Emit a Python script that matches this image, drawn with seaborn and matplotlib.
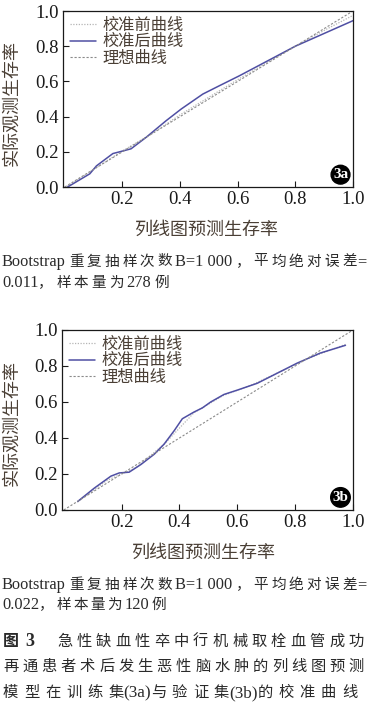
import matplotlib
matplotlib.use("Agg")
import matplotlib.pyplot as plt
import seaborn as sns
import pandas as pd

sns.set_theme(style="ticks")
plt.rcParams['font.family'] = ['Liberation Serif', 'Noto Sans CJK SC']
plt.rcParams['axes.unicode_minus'] = False

# ---------------- data ----------------
# Panel 3a (training set)
a_after_x = [0.01, 0.087, 0.11, 0.167, 0.20, 0.23, 0.283, 0.352, 0.404, 0.479, 0.536, 0.606, 0.80, 1.0]
a_after_y = [0.00, 0.075, 0.12, 0.19, 0.204, 0.217, 0.283, 0.377, 0.443, 0.528, 0.575, 0.632, 0.80, 0.945]
a_before_x = [0.01, 0.10, 0.20, 0.30, 0.40, 0.50, 0.60, 0.70, 0.80, 0.90, 1.0]
a_before_y = [0.005, 0.10, 0.205, 0.30, 0.41, 0.51, 0.61, 0.705, 0.80, 0.89, 0.975]
# Panel 3b (validation set)
b_after_x = [0.048, 0.106, 0.163, 0.192, 0.226, 0.267, 0.313, 0.347, 0.382, 0.41, 0.45, 0.479, 0.508, 0.554, 0.60, 0.669, 0.738, 0.807, 0.887, 0.974]
b_after_y = [0.047, 0.122, 0.188, 0.206, 0.21, 0.253, 0.31, 0.366, 0.441, 0.507, 0.544, 0.567, 0.60, 0.642, 0.666, 0.704, 0.76, 0.816, 0.872, 0.915]
b_before_x = [0.048, 0.15, 0.25, 0.35, 0.45, 0.55, 0.65, 0.75, 0.85, 0.974]
b_before_y = [0.045, 0.165, 0.235, 0.37, 0.54, 0.635, 0.695, 0.77, 0.845, 0.92]
ideal = [0.0, 1.0]

x_ticks = [0.2, 0.4, 0.6, 0.8, 1.0]
y_ticks = [0.0, 0.2, 0.4, 0.6, 0.8, 1.0]
legend_labels = ["校准前曲线", "校准后曲线", "理想曲线"]
x_label = "列线图预测生存率"
y_label = "实际观测生存率"

W, H = 369, 704
fig = plt.figure(figsize=(W / 100, H / 100), dpi=100)
fig.patch.set_facecolor("white")

LABEL_C = "#4a3f35"
TEXT_C = "#2a2a2a"
BLUE = "#4f4fa3"


def fy(py):
    return 1 - py / H


def fx(px):
    return px / W


def panel(rect, bx, by, ax_, ay_, badge):
    ax = fig.add_axes(rect)
    sns.lineplot(x=bx, y=by, ax=ax, color="#b5b5b5", lw=0.9, linestyle=(0, (1, 1.2)),
                 label=legend_labels[0], estimator=None, sort=False)
    sns.lineplot(x=ax_, y=ay_, ax=ax, color=BLUE, lw=1.1,
                 label=legend_labels[1], estimator=None, sort=False)
    sns.lineplot(x=ideal, y=ideal, ax=ax, color="#8a8a8a", lw=0.8, linestyle=(0, (2, 1.6)),
                 label=legend_labels[2], estimator=None, sort=False)
    ax.set_xlim(-0.006, 1.0)
    ax.set_ylim(0.0, 1.0)
    ax.set_xticks(x_ticks)
    ax.set_yticks(y_ticks)
    ax.set_xticklabels([f"{t:.1f}" for t in x_ticks])
    ax.set_yticklabels([f"{t:.1f}" for t in y_ticks])
    ax.tick_params(direction="in", length=4, width=0.8, labelsize=13.5,
                   colors="#1a1a1a", pad=3)
    for s in ax.spines.values():
        s.set_linewidth(0.9)
        s.set_color("#1a1a1a")
    ax.set_xlabel("")
    ax.set_ylabel("")
    leg = ax.legend(loc="upper left", frameon=False, fontsize=11.7,
                    handlelength=1.6, handletextpad=0.45, labelspacing=0.05,
                    borderaxespad=0.25, borderpad=0.15)
    for t in leg.get_texts():
        t.set_color(LABEL_C)
    ax.text(0.957, 0.07, badge, transform=ax.transAxes, ha="center", va="center",
            color="white", fontsize=11, fontweight="bold",
            bbox=dict(boxstyle="circle,pad=0.12", fc="black", ec="black"))
    return ax


def is_ascii(tok):
    return all(ord(c) < 128 for c in tok)


def justify(text_tokens, py, x0, x1, size, color=TEXT_C, tight=()):
    """Place tokens spread evenly between x0 and x1; no gap at indices in tight."""
    r = fig.canvas.get_renderer()
    objs = []
    for tok in text_tokens:
        s = size * 1.12 if is_ascii(tok) else size
        t = fig.text(0, fy(py), tok, fontsize=s, color=color, va="center", ha="left")
        objs.append(t)
    widths = [o.get_window_extent(renderer=r).width for o in objs]
    n_gaps = sum(1 for i in range(1, len(objs)) if i not in tight)
    gap = (x1 - x0 - sum(widths)) / max(n_gaps, 1)
    x = x0
    for i, (o, w) in enumerate(zip(objs, widths)):
        if i > 0 and i not in tight:
            x += gap
        o.set_x(fx(x))
        x += w


def tokenize(s):
    toks = []
    buf = ""
    for ch in s:
        if ord(ch) < 128:
            buf += ch
        else:
            if buf.strip():
                toks.append(buf.strip())
            buf = ""
            toks.append(ch)
    if buf.strip():
        toks.append(buf.strip())
    return toks


# Panel a
ax1 = panel([63 / W, 1 - 187 / H, 290 / W, 176 / H], a_before_x, a_before_y,
            a_after_x, a_after_y, "3a")
fig.text(fx(12), fy(103), y_label, rotation=90, ha="center", va="center",
         fontsize=13, color=LABEL_C)
fig.text(fx(206), fy(230), x_label, ha="center", va="center",
         fontsize=13, color=LABEL_C)

# Panel b
ax2 = panel([62 / W, 1 - 510 / H, 291 / W, 180 / H], b_before_x, b_before_y,
            b_after_x, b_after_y, "3b")
fig.text(fx(12), fy(423), y_label, rotation=90, ha="center", va="center",
         fontsize=13, color=LABEL_C)
fig.text(fx(203), fy(553), x_label, ha="center", va="center",
         fontsize=13, color=LABEL_C)

fig.canvas.draw()

# captions
cap1 = "Bootstrap 重复抽样次数 B=1 000， 平均绝对误差="
justify(tokenize(cap1), 262, 2, 366, 10.5, tight=(15,))
justify(tokenize("0.011，样本量为 278 例"), 283, 2, 169, 10.5, tight=(1,))
justify(tokenize(cap1), 585, 2, 366, 10.5, tight=(15,))
justify(tokenize("0.022，样本量为 120 例"), 605, 2, 166, 10.5, tight=(1,))

fig.text(fx(3), fy(642), "图", fontsize=11.5, color=TEXT_C, va="center",
         ha="left", fontweight="bold")
fig.text(fx(25), fy(642), "3", fontsize=13, color=TEXT_C, va="center",
         ha="left", fontweight="bold")
justify(list("急性缺血性卒中行机械取栓血管成功"), 642, 57, 364, 11)
justify(list("再通患者术后发生恶性脑水肿的列线图预测"), 667, 3, 364, 11)
t3 = tokenize("模型在训练集(3a)与验证集(3b)的校准曲线")
justify(t3, 693, 3, 357, 11, tight=(6, 7, 11, 12))

fig.savefig("out.png", dpi=100, facecolor="white")
